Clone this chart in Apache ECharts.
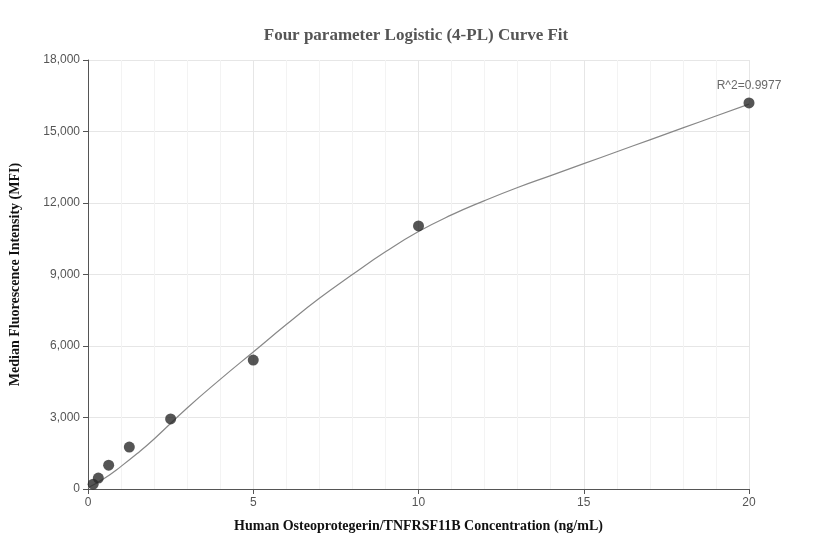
<!DOCTYPE html>
<html><head><meta charset="utf-8">
<script src="https://cdn.jsdelivr.net/npm/echarts@6/dist/echarts.min.js"></script>
<style>html,body{margin:0;background:#fff}#c{width:832px;height:560px}</style>
</head><body><div id="c"></div>
<script>
// measured standards
const concX = [0.156, 0.3125, 0.625, 1.25, 2.5, 5, 10, 20]
const mfiY = [200, 460, 1000, 1760, 2940, 5410, 11040, 16200]
// fitted curve
const curveX = [0, 0.5, 1, 1.5, 2, 3, 4, 5, 6, 7, 8, 9, 10, 11, 12, 13, 14, 15, 16, 17, 18, 19, 20]
const curveY = [50, 450, 950, 1500, 2100, 3400, 4600, 5750, 6900, 8000, 9000, 9950, 10800, 11500, 12100, 12650, 13150, 13650, 14150, 14650, 15150, 15650, 16150]
const yTicks = [0, 3000, 6000, 9000, 12000, 15000, 18000]
const r2Text = 'R^2=0.9977'

const chart = echarts.init(document.getElementById('c'))
const serif = 'Liberation Serif'
chart.setOption({
  animation: false,
  title: { text: 'Four parameter Logistic (4-PL) Curve Fit', left: 'center', top: 22,
    textStyle: { fontFamily: serif, fontSize: 17, fontWeight: 'bold', color: '#555' } },
  grid: { left: 83, right: 83, top: 60, bottom: 71 },
  xAxis: { type: 'value', min: 0, max: 20, interval: 5,
    name: 'Human Osteoprotegerin/TNFRSF11B Concentration (ng/mL)', nameLocation: 'middle', nameGap: 30,
    nameTextStyle: { fontFamily: serif, fontWeight: 'bold', fontSize: 14, color: '#111' },
    axisLine: { lineStyle: { color: '#555' } }, axisTick: { show: true, length: 5 },
    axisLabel: { color: '#555', fontSize: 12 },
    splitLine: { lineStyle: { color: '#e6e6e6' } },
    minorTick: { show: false, splitNumber: 5 }, minorSplitLine: { show: true, lineStyle: { color: '#f3f3f3' } } },
  yAxis: { type: 'value', min: 0, max: yTicks[yTicks.length - 1], interval: 3000,
    name: 'Median Fluorescence Intensity (MFI)', nameLocation: 'middle', nameGap: 66,
    nameTextStyle: { fontFamily: serif, fontWeight: 'bold', fontSize: 14, color: '#111' },
    axisLine: { show: true, lineStyle: { color: '#555' } }, axisTick: { show: true, length: 5 },
    axisLabel: { color: '#555', fontSize: 12, formatter: v => v.toLocaleString('en-US') },
    splitLine: { lineStyle: { color: '#e6e6e6' } } },
  series: [
    { type: 'line', data: curveX.map((x, i) => [x, curveY[i]]), smooth: true, symbol: 'none',
      lineStyle: { color: '#888', width: 1.2 }, z: 2 },
    { type: 'scatter', data: concX.map((x, i) => [x, mfiY[i]]), symbolSize: 11,
      itemStyle: { color: '#2b2b2b' }, z: 3,
      label: { show: true, position: 'top', distance: 6, color: '#444', fontSize: 12,
        formatter: p => p.dataIndex === concX.length - 1 ? r2Text : '' } }
  ]
})
</script></body></html>
